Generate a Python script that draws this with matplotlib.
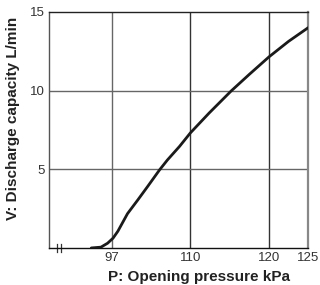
import numpy as np
import matplotlib
matplotlib.use("Agg")
import matplotlib.pyplot as plt

plt.rcParams['font.family'] = ['Liberation Sans', 'DejaVu Sans']

# pressure kPa vs discharge capacity L/min
pressure = [93.6, 95.2, 96.3, 97.2, 98.0, 98.8, 99.6, 101.3, 102.9, 104.9,
            106.2, 108.2, 110.0, 112.4, 115.2, 117.5, 120.0, 122.5, 125.0]
capacity = [0.0, 0.05, 0.3, 0.62, 1.06, 1.62, 2.18, 3.05, 3.89, 4.96,
            5.59, 6.45, 7.31, 8.58, 9.98, 11.03, 12.14, 13.13, 14.0]

x_ticks = [97, 110, 120, 125]
y_ticks = [5, 10, 15]


# axis is compressed below 110 kPa (97 sits where 100 would be)
def forward(p):
    p = np.asarray(p, dtype=float)
    return np.where(p < 110, 100 + (p - 97) / 1.3, p)


def inverse(s):
    s = np.asarray(s, dtype=float)
    return np.where(s < 110, 97 + (s - 100) * 1.3, s)


fig = plt.figure(figsize=(3.2, 2.85), dpi=100)
ax = fig.add_axes([0.153, 0.13, 0.81, 0.828])
ax.set_xscale("function", functions=(forward, inverse))

ax.plot(pressure, capacity, color="#1a1a1a", lw=2.0, solid_capstyle="round",
        solid_joinstyle="round", zorder=3)

ax.set_xlim(86.6, 125)
ax.set_ylim(0, 15)
ax.set_xticks(x_ticks)
ax.set_xticklabels([str(t) for t in x_ticks])
ax.set_yticks(y_ticks)
ax.set_yticklabels([str(t) for t in y_ticks])
ax.tick_params(length=0, labelsize=9.5, colors="#333333", pad=3)
ax.xaxis.set_minor_locator(plt.NullLocator())

for t in [97, 110, 120]:
    ax.axvline(t, color="#666666" if t == 97 else "#333333", lw=1.0, zorder=1)
for t in [5, 10]:
    ax.axhline(t, color="#666666", lw=1.0, zorder=1)

ax.spines["top"].set_color("#222222")
ax.spines["left"].set_color("#555555")
ax.spines["bottom"].set_color("#111111")
ax.spines["right"].set_color("#888888")
ax.spines["right"].set_linewidth(1.6)
for s in ["top", "left", "bottom"]:
    ax.spines[s].set_linewidth(1.0)

# break mark on the x axis
tr = ax.get_xaxis_transform()
for bx in [87.95, 88.6]:
    ax.plot([bx, bx], [-0.018, 0.018], color="#333333", lw=0.9,
            transform=tr, clip_on=False)

ax.set_xlabel("P: Opening pressure kPa", fontsize=11, fontweight="bold",
              color="#222222")
ax.set_ylabel("V: Discharge capacity L/min", fontsize=11, fontweight="bold",
              color="#222222")
ax.xaxis.set_label_coords(0.58, -0.095)
ax.yaxis.set_label_coords(-0.112, 0.55)

fig.savefig("out.png", dpi=100)
